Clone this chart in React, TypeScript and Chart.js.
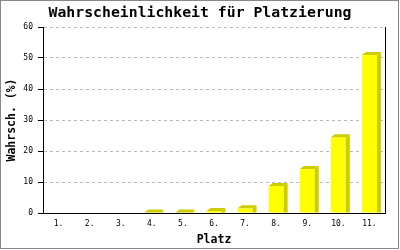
import React, { useEffect, useRef } from "react";
import { Chart, registerables } from "chart.js";

Chart.register(...registerables);

const categories = ["1.", "2.", "3.", "4.", "5.", "6.", "7.", "8.", "9.", "10.", "11."];
const probabilities = [0, 0, 0, 0.2, 0.2, 0.65, 1.5, 8.7, 14.2, 24.4, 51];
const yTicks = [0, 10, 20, 30, 40, 50, 60];
const chartTitle = "Wahrscheinlichkeit für Platzierung";

const MONO = "'DejaVu Sans Mono', monospace";

const bar3d = {
  id: "bar3d",
  afterDatasetsDraw(chart: any) {
    const ctx = chart.ctx;
    const meta = chart.getDatasetMeta(0);
    const dx = 4;
    const dy = 3;
    ctx.save();
    meta.data.forEach((el: any, i: number) => {
      if (!probabilities[i]) return;
      const { x, y, base, width } = el.getProps(["x", "y", "base", "width"], true);
      const l = x - width / 2;
      const r = x + width / 2;
      ctx.fillStyle = "#cccc00";
      ctx.beginPath();
      ctx.moveTo(r, y);
      ctx.lineTo(r + dx, y - dy);
      ctx.lineTo(r + dx, base - dy);
      ctx.lineTo(r + dx, base);
      ctx.lineTo(r, base);
      ctx.closePath();
      ctx.fill();
      ctx.beginPath();
      ctx.moveTo(l, y);
      ctx.lineTo(l + dx, y - dy);
      ctx.lineTo(r + dx, y - dy);
      ctx.lineTo(r, y);
      ctx.closePath();
      ctx.fill();
    });
    const a = chart.chartArea;
    ctx.strokeStyle = "#000";
    ctx.lineWidth = 1;
    ctx.beginPath();
    ctx.moveTo(Math.round(a.right) + 0.5, a.top);
    ctx.lineTo(Math.round(a.right) + 0.5, a.bottom);
    ctx.stroke();
    ctx.restore();
  },
  afterDraw(chart: any) {
    const ctx = chart.ctx;
    ctx.save();
    ctx.strokeStyle = "#888";
    ctx.lineWidth = 1;
    ctx.strokeRect(0.5, 0.5, 398, 248);
    ctx.fillStyle = "#000";
    ctx.font = "bold 14.8px " + MONO;
    ctx.textAlign = "center";
    ctx.textBaseline = "middle";
    ctx.fillText(chartTitle, 200, 13.5);
    ctx.restore();
  },
};

export default function App() {
  const ref = useRef<HTMLCanvasElement>(null);
  useEffect(() => {
    if (!ref.current) return;
    const chart = new Chart(ref.current, {
      type: "bar",
      data: {
        labels: categories,
        datasets: [
          {
            data: probabilities,
            backgroundColor: "#ffff00",
            borderWidth: 0,
            barPercentage: 0.48,
            categoryPercentage: 1,
          },
        ],
      },
      options: {
        responsive: false,
        animation: false,
        layout: { padding: { top: 27, left: 0, right: 15, bottom: 0 } },
        plugins: {
          legend: { display: false },
          tooltip: { enabled: false },
          title: { display: false },
        },
        scales: {
          x: {
            grid: { display: false, drawTicks: false, tickLength: 0 },
            border: { display: true, color: "#000", width: 1 },
            ticks: { color: "#000", font: { family: MONO, size: 8 }, padding: 6, maxRotation: 0 },
            title: {
              display: true,
              text: "Platz",
              color: "#000",
              font: { family: MONO, size: 11.5, weight: "bold" },
              padding: { top: 0, bottom: 3 },
            },
            afterFit(scale: any) {
              scale.height = 37;
            },
          },
          y: {
            min: 0,
            max: 60,
            afterBuildTicks(scale: any) {
              scale.ticks = yTicks.map((v) => ({ value: v }));
            },
            grid: {
              color: (c: any) => (c.tick && c.tick.value === 0 ? "rgba(0,0,0,0)" : "#bbbbbb"),
              tickColor: "#000",
              tickBorderDash: [],
              tickLength: 5,
              lineWidth: 1,
            },
            border: { display: true, color: "#000", width: 1, dash: [3, 3] },
            ticks: { color: "#000", font: { family: MONO, size: 8 }, padding: 5 },
            title: {
              display: true,
              text: "Wahrsch. (%)",
              color: "#000",
              font: { family: MONO, size: 11.5, weight: "bold" },
              padding: { top: 5, bottom: 0 },
            },
            afterFit(scale: any) {
              scale.width = 43;
            },
          },
        },
      },
      plugins: [bar3d],
    });
    return () => chart.destroy();
  }, []);
  return (
    <div style={{ position: "absolute", left: 0, top: 0, width: 400, height: 250, background: "#fff" }}>
      <canvas ref={ref} width={400} height={250} style={{ display: "block" }} />
    </div>
  );
}
